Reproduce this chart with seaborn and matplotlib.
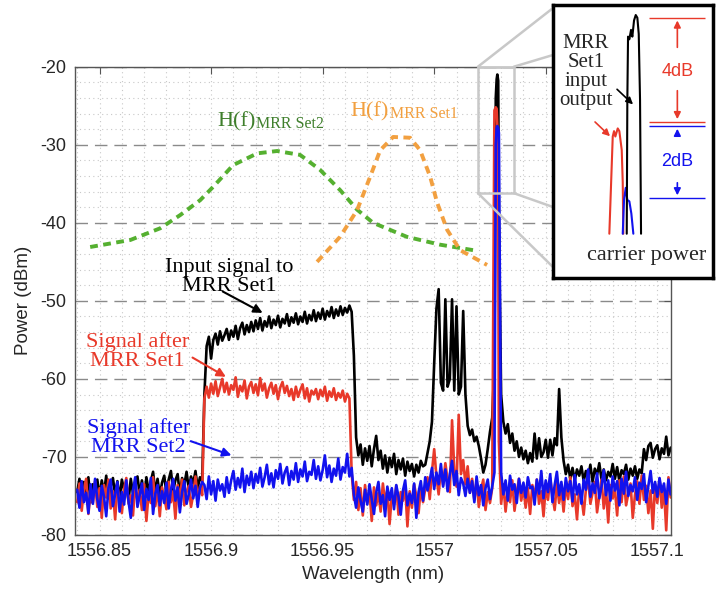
import numpy as np
import pandas as pd
import seaborn as sns
import matplotlib.pyplot as plt
from matplotlib.patches import Rectangle, ConnectionPatch
from matplotlib.ticker import MultipleLocator

# OSA trace sampled on a 1 pm grid starting at 1556.840 nm
wl_start, wl_step, n_pts = 1556.840, 0.001, 267

black_dbm = [
    -74.5, -72.8, -75.6, -73.2, -74.9, -72.6, -75.8, -73.5, -74.2, -72.9,
    -75.1, -73.0, -74.6, -72.4, -75.3, -73.8, -72.7, -74.9, -73.1, -75.4,
    -72.9, -74.2, -73.4, -75.6, -72.8, -74.7, -73.3, -72.5, -74.8, -73.0,
    -75.2, -72.6, -74.4, -73.1, -71.9, -74.6, -72.8, -75.0, -73.3, -72.4,
    -74.7, -72.9, -71.8, -74.3, -73.0, -72.2, -74.9, -72.7, -73.6, -71.9,
    -74.1, -72.5, -73.4, -71.8, -74.0, -72.6, -73.1,
    -62.0,
    -55.8, -54.6, -57.4, -55.0, -54.2, -55.6, -53.9, -55.1, -54.4, -53.6,
    -55.0, -53.8, -54.6, -53.2, -54.9, -53.5, -52.8, -54.3, -53.1, -54.0,
    -52.7, -53.9, -52.5, -53.6, -52.2, -53.8, -52.6, -53.3, -52.0, -53.5,
    -52.4, -53.1, -51.9, -53.4, -52.3, -52.9, -51.7, -53.2, -52.1, -52.8,
    -51.6, -53.0, -52.0, -52.7, -51.4, -52.9, -51.8, -52.5, -51.2, -52.6,
    -51.5, -52.3, -51.0, -52.4, -51.3, -52.0, -50.8, -52.2, -51.1, -51.9,
    -50.7, -51.8, -50.9, -51.5, -50.6, -51.4,
    -57.0, -67.5,
    -69.8, -68.4, -71.0, -68.9, -70.5, -68.6, -71.2, -69.0, -67.3, -70.4,
    -69.2, -71.5, -69.8, -72.0, -70.1, -71.3, -69.6, -72.2, -70.4, -71.6,
    -70.2, -72.4, -70.6, -71.8, -70.9, -72.5, -71.0, -72.0, -70.5, -71.2,
    -71.0, -69.5, -68.0, -65.5,
    -58.0, -51.0, -48.5, -60.5, -61.5, -49.8, -61.0, -60.0, -49.8, -61.5,
    -50.7, -62.0, -61.0, -51.3, -62.0, -66.0,
    -67.2, -66.5, -68.0, -67.4, -68.6, -70.2, -72.0, -71.0, -69.0, -66.8,
    -65.0, -58.0, -21.6, -40.0, -62.0,
    -65.5, -67.0, -65.8, -68.2, -67.0, -69.2, -68.0, -70.0, -68.8, -70.3,
    -69.2, -70.8, -69.5, -70.6,
    -67.0, -70.2, -67.6, -70.0, -69.4, -67.8, -70.1, -67.8, -69.8, -67.6,
    -68.5, -61.3, -67.5, -70.5,
    -72.2, -71.0, -72.8, -71.4, -73.0, -71.6, -72.4, -71.2, -73.1, -71.8,
    -72.6, -71.0, -73.2, -71.5, -72.3, -70.8, -72.9, -71.6, -73.0, -71.9,
    -72.5, -70.9, -72.8, -71.3, -73.1, -71.7, -72.2, -71.0, -72.9, -71.5,
    -72.4, -71.2, -72.8, -71.6, -72.1,
    -69.0, -70.4, -68.6, -68.2, -70.1, -69.0, -68.5, -70.3, -68.9, -69.6,
    -67.4, -69.8, -68.8,
]

red_dbm = [
    -75.8, -73.4, -76.9, -74.2, -72.8, -77.3, -74.6, -75.9, -73.1, -76.4,
    -74.0, -77.8, -73.6, -75.2, -72.9, -76.6, -74.4, -78.0, -73.8, -75.5,
    -77.2, -74.1, -72.7, -76.0, -74.9, -77.5, -73.3, -75.7, -74.2, -76.8,
    -73.5, -78.2, -74.6, -75.9, -72.6, -76.3, -74.0, -77.6, -73.9, -75.1,
    -76.7, -73.2, -75.8, -74.4, -77.9, -73.6, -75.3, -72.9, -76.2, -74.5,
    -73.7, -76.4, -74.8, -72.5, -75.6, -73.8, -74.9,
    -62.5,
    -61.0, -62.4, -60.6, -61.9, -60.3, -62.2, -61.1, -60.0, -61.7, -60.5,
    -62.0, -60.8, -61.4, -59.8, -62.3, -60.9, -61.6, -60.2, -62.5, -61.0,
    -60.4, -61.8, -60.7, -62.1, -59.9, -61.5, -60.6, -62.4, -61.2, -60.5,
    -61.9, -60.8, -62.6, -61.1, -60.4, -61.8, -60.9, -62.2, -61.3, -62.7,
    -61.0, -62.3, -61.4, -60.7, -62.5, -61.2, -62.9, -61.5, -62.0, -61.3,
    -62.6, -61.4, -62.2, -61.0, -62.8, -61.6, -62.3, -61.2, -62.7, -61.8,
    -62.4, -61.5, -62.9, -61.9, -62.5,
    -72.0,
    -75.5, -73.2, -76.8, -74.0, -77.5, -73.6, -75.9, -74.3, -78.2, -73.9,
    -76.2, -74.6, -77.0, -73.4, -75.8, -74.2, -78.6, -74.9, -76.0, -73.7,
    -77.4, -74.5, -75.6, -73.8, -78.9, -74.4, -76.5, -73.5, -75.0, -77.2,
    -73.9, -75.8, -74.1, -72.6, -75.4, -71.9, -69.0, -72.5, -74.8, -71.5,
    -73.6, -70.8, -72.9, -74.5, -65.3, -71.6, -73.8, -64.6, -72.2, -70.4,
    -73.5, -71.2, -74.6, -72.8, -75.5, -73.0, -76.4, -74.2, -72.9, -76.8,
    -74.5, -75.9,
    -74.0, -25.6, -25.4, -68.0, -76.0,
    -73.5, -77.0, -74.2, -75.8, -73.0, -76.9, -74.5, -72.8, -75.6, -73.9,
    -76.5, -74.0, -77.3, -73.6, -75.2, -72.9, -76.0, -74.4, -77.6, -73.8,
    -75.5, -72.7, -74.9, -76.8, -73.3, -75.9, -74.1, -77.0, -73.5, -75.4,
    -72.6, -76.3, -74.8, -78.0, -73.9, -75.1, -77.4, -74.2, -72.8, -76.0,
    -74.6, -73.2, -77.1, -75.0, -72.9, -76.6, -74.0, -78.4, -73.6, -75.3,
    -74.1, -77.5, -73.0, -75.8, -72.5, -76.2, -74.7, -73.4, -77.8, -74.9,
    -73.1, -76.0, -72.4, -75.5, -73.7, -77.2, -74.3, -79.2, -73.5, -75.9,
    -72.8, -76.5, -74.0, -79.4, -72.6, -75.2,
]

blue_dbm = [
    -74.2, -76.5, -73.1, -75.8, -74.6, -77.2, -73.5, -76.0, -72.8, -75.4,
    -76.9, -73.7, -75.1, -77.6, -74.0, -72.9, -76.3, -74.8, -73.2, -77.0,
    -74.5, -76.1, -73.0, -75.7, -77.8, -74.3, -72.6, -76.4, -74.9, -73.4,
    -76.8, -74.1, -75.5, -72.7, -77.3, -74.7, -73.6, -76.2, -74.4, -75.9,
    -73.3, -76.6, -74.2, -72.8, -75.6, -73.9, -77.1, -74.5, -73.1, -76.0,
    -74.8, -72.9, -75.3, -73.7, -76.4, -74.0, -73.2,
    -73.6, -75.4, -72.5, -74.8, -73.1, -75.6, -72.9, -74.3, -73.5, -75.1,
    -72.6, -74.6, -73.0, -71.8, -74.2, -72.7, -73.9, -71.5, -74.5, -72.4,
    -73.6, -71.9, -74.0, -72.2, -73.3, -71.4, -73.8, -72.6, -71.0, -73.5,
    -72.1, -73.9, -71.7, -72.8, -70.9, -73.4, -72.0, -71.3, -73.6, -71.8,
    -72.9, -70.8, -73.2, -71.6, -72.5, -70.6, -73.1, -71.9, -72.3, -70.4,
    -72.8, -71.2, -73.0, -71.7, -69.8, -72.6, -71.1, -73.2, -71.5, -72.4,
    -70.2, -72.9, -71.3, -72.0, -69.6, -72.5, -71.4,
    -74.8, -76.5, -73.9, -75.6, -77.0, -74.2, -76.1, -73.5, -75.4, -77.3,
    -74.6, -73.2, -76.0, -74.9, -77.6, -73.8, -75.5, -74.0, -76.7, -73.6,
    -75.1, -77.4, -74.3, -73.0, -76.2, -74.7, -75.9, -73.4, -77.8, -74.5,
    -73.1, -75.6, -72.6, -74.3, -73.0, -71.4, -74.1, -72.0, -73.5, -70.9,
    -73.8, -71.6, -74.4, -72.2, -70.5, -73.6, -71.8, -74.9, -72.7, -73.4,
    -75.0, -72.8, -74.6, -73.1, -75.8, -72.5, -74.9, -73.6, -76.2, -74.0,
    -72.9, -75.4,
    -73.8, -72.0, -27.8, -28.5, -72.0,
    -74.8, -73.0, -75.6, -72.4, -74.2, -73.5, -75.9, -72.8, -74.6, -73.3,
    -75.2, -72.6, -74.0, -73.8, -76.1, -72.9, -74.7, -71.8, -75.3, -73.0,
    -74.5, -72.2, -75.8, -73.6, -71.9, -74.9, -73.2, -75.5, -72.7, -74.4,
    -73.1, -75.7, -72.3, -74.8, -73.5, -76.0, -72.9, -74.2, -71.6, -75.1,
    -73.4, -74.6, -72.1, -75.3, -73.8, -71.7, -74.9, -73.0, -75.6, -72.5,
    -74.3, -73.1, -76.2, -72.8, -74.7, -71.9, -75.0, -73.6, -74.4, -72.6,
    -75.5, -73.3, -74.1, -72.2, -75.8, -73.7, -71.8, -74.6, -73.2, -75.1,
    -72.7, -74.5, -73.4, -76.0, -72.9, -74.8,
]

# carrier line is narrower than the 1 pm grid -> a few extra samples
carrier_wl = [1557.0276, 1557.0283, 1557.0287]
black_carrier = [-24.0, -21.0, -21.8]
red_carrier = [-25.2, -27.5, -40.0]
blue_carrier = [-30.0, -27.6, -27.9]

# MRR filter responses (dashed)
h2_wl = [1556.8458, 1556.8638, 1556.8772, 1556.8862, 1556.8951, 1556.9009, 1556.9099,
         1556.9207, 1556.9296, 1556.9399, 1556.9488, 1556.9578, 1556.9654, 1556.9726,
         1556.9878, 1557.0026, 1557.0174]
h2_db = [-43.1, -42.2, -40.7, -39.0, -37.1, -35.4, -32.6,
         -31.1, -30.8, -31.3, -33.2, -35.8, -38.3, -40.0,
         -41.8, -42.8, -43.5]
h1_wl = [1556.9475, 1556.9578, 1556.9654, 1556.9713, 1556.9758, 1556.9816, 1556.9892,
         1556.9937, 1556.9982, 1557.0013, 1557.0058, 1557.0116, 1557.0237]
h1_db = [-45.0, -41.8, -38.4, -34.1, -30.7, -29.0, -29.1,
         -30.7, -34.1, -37.4, -40.9, -43.5, -45.4]

# inset: carrier close-up (x = relative offset, pm)
ins_red_x = [-3.7, -0.3, 1.0, 2.3, 4.7, 6.3, 8.7, 9.7, 10.3]
ins_red_db = [-29.5, -25.9, -25.7, -25.9, -25.6, -25.7, -26.4, -27.6, -29.5]
ins_blue_x = [9.7, 11.0, 12.7, 14.3, 16.3, 18.3, 20.3]
ins_blue_db = [-29.5, -28.25, -27.8, -28.25, -28.3, -28.75, -29.5]
ins_black_x = [13.7, 14.3, 15.0, 16.3, 18.0, 19.3, 21.0, 22.7, 24.3, 25.7, 27.0, 28.0]
ins_black_db = [-29.5, -24.55, -22.2, -22.3, -21.95, -22.2, -21.6, -21.4, -21.5, -22.1, -24.55, -29.5]

assert len(black_dbm) == len(red_dbm) == len(blue_dbm) == n_pts

grid = wl_start + wl_step * np.arange(n_pts)
wl = np.concatenate([grid, carrier_wl])
order = np.argsort(wl)
df = pd.DataFrame({
    'wl': wl[order],
    'black': np.concatenate([black_dbm, black_carrier])[order],
    'red': np.concatenate([red_dbm, red_carrier])[order],
    'blue': np.concatenate([blue_dbm, blue_carrier])[order],
})

RED = '#e8392a'
BLUE = '#1212ee'
GREEN = '#55b030'
ORANGE = '#f2a040'
SERIF = 'Liberation Serif'

sns.set_style('white')
plt.rcParams['font.family'] = ['Liberation Sans', 'DejaVu Sans']
plt.rcParams['axes.unicode_minus'] = False

fig = plt.figure(figsize=(7.17, 5.92), dpi=100)
ax = fig.add_axes([0.1046, 0.0963, 0.8308, 0.791])

sns.lineplot(data=df, x='wl', y='black', color='black', lw=1.9, estimator=None, ax=ax)
sns.lineplot(data=df, x='wl', y='red', color=RED, lw=1.9, estimator=None, ax=ax)
sns.lineplot(data=df, x='wl', y='blue', color=BLUE, lw=1.9, estimator=None, ax=ax)
sns.lineplot(x=h2_wl, y=h2_db, color=GREEN, lw=2.8, linestyle=(0, (2, 1.4)), ax=ax)
sns.lineplot(x=h1_wl, y=h1_db, color=ORANGE, lw=2.8, linestyle=(0, (2, 1.4)), ax=ax)

ax.set_xlim(1556.839, 1557.106)
ax.set_ylim(-80, -20)
ax.xaxis.set_major_locator(MultipleLocator(0.05))
ax.xaxis.set_minor_locator(MultipleLocator(0.01))
ax.yaxis.set_major_locator(MultipleLocator(10))
ax.yaxis.set_minor_locator(MultipleLocator(2))
ax.set_xticks([1556.85, 1556.9, 1556.95, 1557.0, 1557.05, 1557.1])
ax.set_xticklabels(['1556.85', '1556.9', '1556.95', '1557', '1557.05', '1557.1'])
ax.set_axisbelow(True)
ax.grid(which='minor', color='#c8c8c8', lw=0.8, linestyle=(0, (1, 3)))
ax.grid(which='major', axis='x', color='#c8c8c8', lw=0.8, linestyle=(0, (1, 3)))
ax.grid(which='major', axis='y', color='#8a8a8a', lw=1.0, linestyle=(0, (9, 5)))
ax.tick_params(which='major', direction='in', length=5, top=True, right=True,
               labelsize=13, color='#555555', pad=6)
ax.tick_params(which='minor', length=0)
for sp in ax.spines.values():
    sp.set_color('#555555')
    sp.set_linewidth(1.0)
ax.set_xlabel('Wavelength (nm)', fontsize=13.5, labelpad=4)
ax.set_ylabel('Power (dBm)', fontsize=13.5, labelpad=6)

# labels for the filter curves
ax.text(1556.9027, -27.7, 'H(f)', color='#3f7f2c', fontsize=16, family=SERIF, va='baseline')
ax.text(1556.9202, -27.9, 'MRR Set2', color='#3f7f2c', fontsize=11.5, family=SERIF, va='baseline')
ax.text(1556.9623, -26.4, 'H(f)', color=ORANGE, fontsize=16, family=SERIF, va='baseline')
ax.text(1556.9803, -26.6, 'MRR Set1', color=ORANGE, fontsize=11.5, family=SERIF, va='baseline')

ax.text(1556.9081, -46.97, 'Input signal to\nMRR Set1', color='black', fontsize=16,
        family=SERIF, ha='center', va='center', linespacing=1.0)
ax.text(1556.8669, -56.45, 'Signal after\nMRR Set1', color=RED, fontsize=16,
        family=SERIF, ha='center', va='center', linespacing=1.0)
ax.text(1556.8673, -67.47, 'Signal after\nMRR Set2', color=BLUE, fontsize=16,
        family=SERIF, ha='center', va='center', linespacing=1.0)

arrow = dict(arrowstyle='-|>', lw=1.5, mutation_scale=13)
ax.annotate('', xy=(1556.9242, -51.71), xytext=(1556.9041, -48.63),
            arrowprops=dict(arrow, color='black'))
ax.annotate('', xy=(1556.9077, -59.91), xytext=(1556.8906, -57.09),
            arrowprops=dict(arrow, color=RED))
ax.annotate('', xy=(1556.9103, -69.91), xytext=(1556.8897, -67.86),
            arrowprops=dict(arrow, color=BLUE))

# zoom box around the carrier
zx0, zx1, zy0, zy1 = 1557.0196, 1557.0357, -36.2, -20.0
ax.add_patch(Rectangle((zx0, zy0), zx1 - zx0, zy1 - zy0, fill=False,
                       ec='#c8c8c8', lw=1.8, zorder=6, clip_on=False))

# inset
ax_in = fig.add_axes([0.7713, 0.5304, 0.2232, 0.4611], zorder=5)
ax_in.set_facecolor('white')
sns.lineplot(x=ins_red_x, y=ins_red_db, color=RED, lw=1.5, sort=False, estimator=None, ax=ax_in)
sns.lineplot(x=ins_blue_x, y=ins_blue_db, color=BLUE, lw=1.5, sort=False, estimator=None, ax=ax_in)
sns.lineplot(x=ins_black_x, y=ins_black_db, color='black', lw=1.5, sort=False, estimator=None, ax=ax_in)
ax_in.set_xlim(-60, 100)
ax_in.set_ylim(-31.14, -21.03)
ax_in.set_xticks([])
ax_in.set_yticks([])
ax_in.set_xlabel('')
ax_in.set_ylabel('')
for sp in ax_in.spines.values():
    sp.set_color('black')
    sp.set_linewidth(2.5)

ax_in.hlines([-21.5, -25.36], 36, 92, color=RED, lw=1.0)
ax_in.hlines([-25.51, -28.18], 36, 92, color=BLUE, lw=1.0)
small = dict(arrowstyle='-|>', lw=1.2, mutation_scale=10)
ax_in.annotate('', xy=(64.3, -21.5), xytext=(64.3, -22.7), arrowprops=dict(small, color=RED))
ax_in.annotate('', xy=(64.3, -25.36), xytext=(64.3, -24.1), arrowprops=dict(small, color=RED))
ax_in.annotate('', xy=(64.3, -25.51), xytext=(64.3, -25.92), arrowprops=dict(small, color=BLUE))
ax_in.annotate('', xy=(64.3, -28.18), xytext=(64.3, -27.51), arrowprops=dict(small, color=BLUE))
ax_in.text(64.3, -23.51, '4dB', color=RED, fontsize=13, ha='center', va='center')
ax_in.text(64.3, -26.81, '2dB', color=BLUE, fontsize=13, ha='center', va='center')
ax_in.text(-27, -23.51, 'MRR\nSet1\ninput\noutput', fontsize=15, family=SERIF,
           ha='center', va='center', linespacing=1.0)
ax_in.annotate('', xy=(22, -24.78), xytext=(2, -24.08), arrowprops=dict(small, color='black'))
ax_in.annotate('', xy=(-1, -25.96), xytext=(-20, -25.29), arrowprops=dict(small, color=RED))
ax_in.text(34, -30.29, 'carrier power', fontsize=16, family=SERIF, ha='center', va='center')

for xa, ya, yb in [(zx0, zy1, 0.989), (zx1, zy1, 0.817), (zx1, zy0, 0.26), (zx0, zy0, 0.04)]:
    con = ConnectionPatch(xyA=(xa, ya), coordsA=ax.transData, xyB=(0, yb),
                          coordsB=ax_in.transAxes, color='#c8c8c8', lw=1.8, zorder=4)
    fig.add_artist(con)

fig.savefig('out.png', dpi=100)
